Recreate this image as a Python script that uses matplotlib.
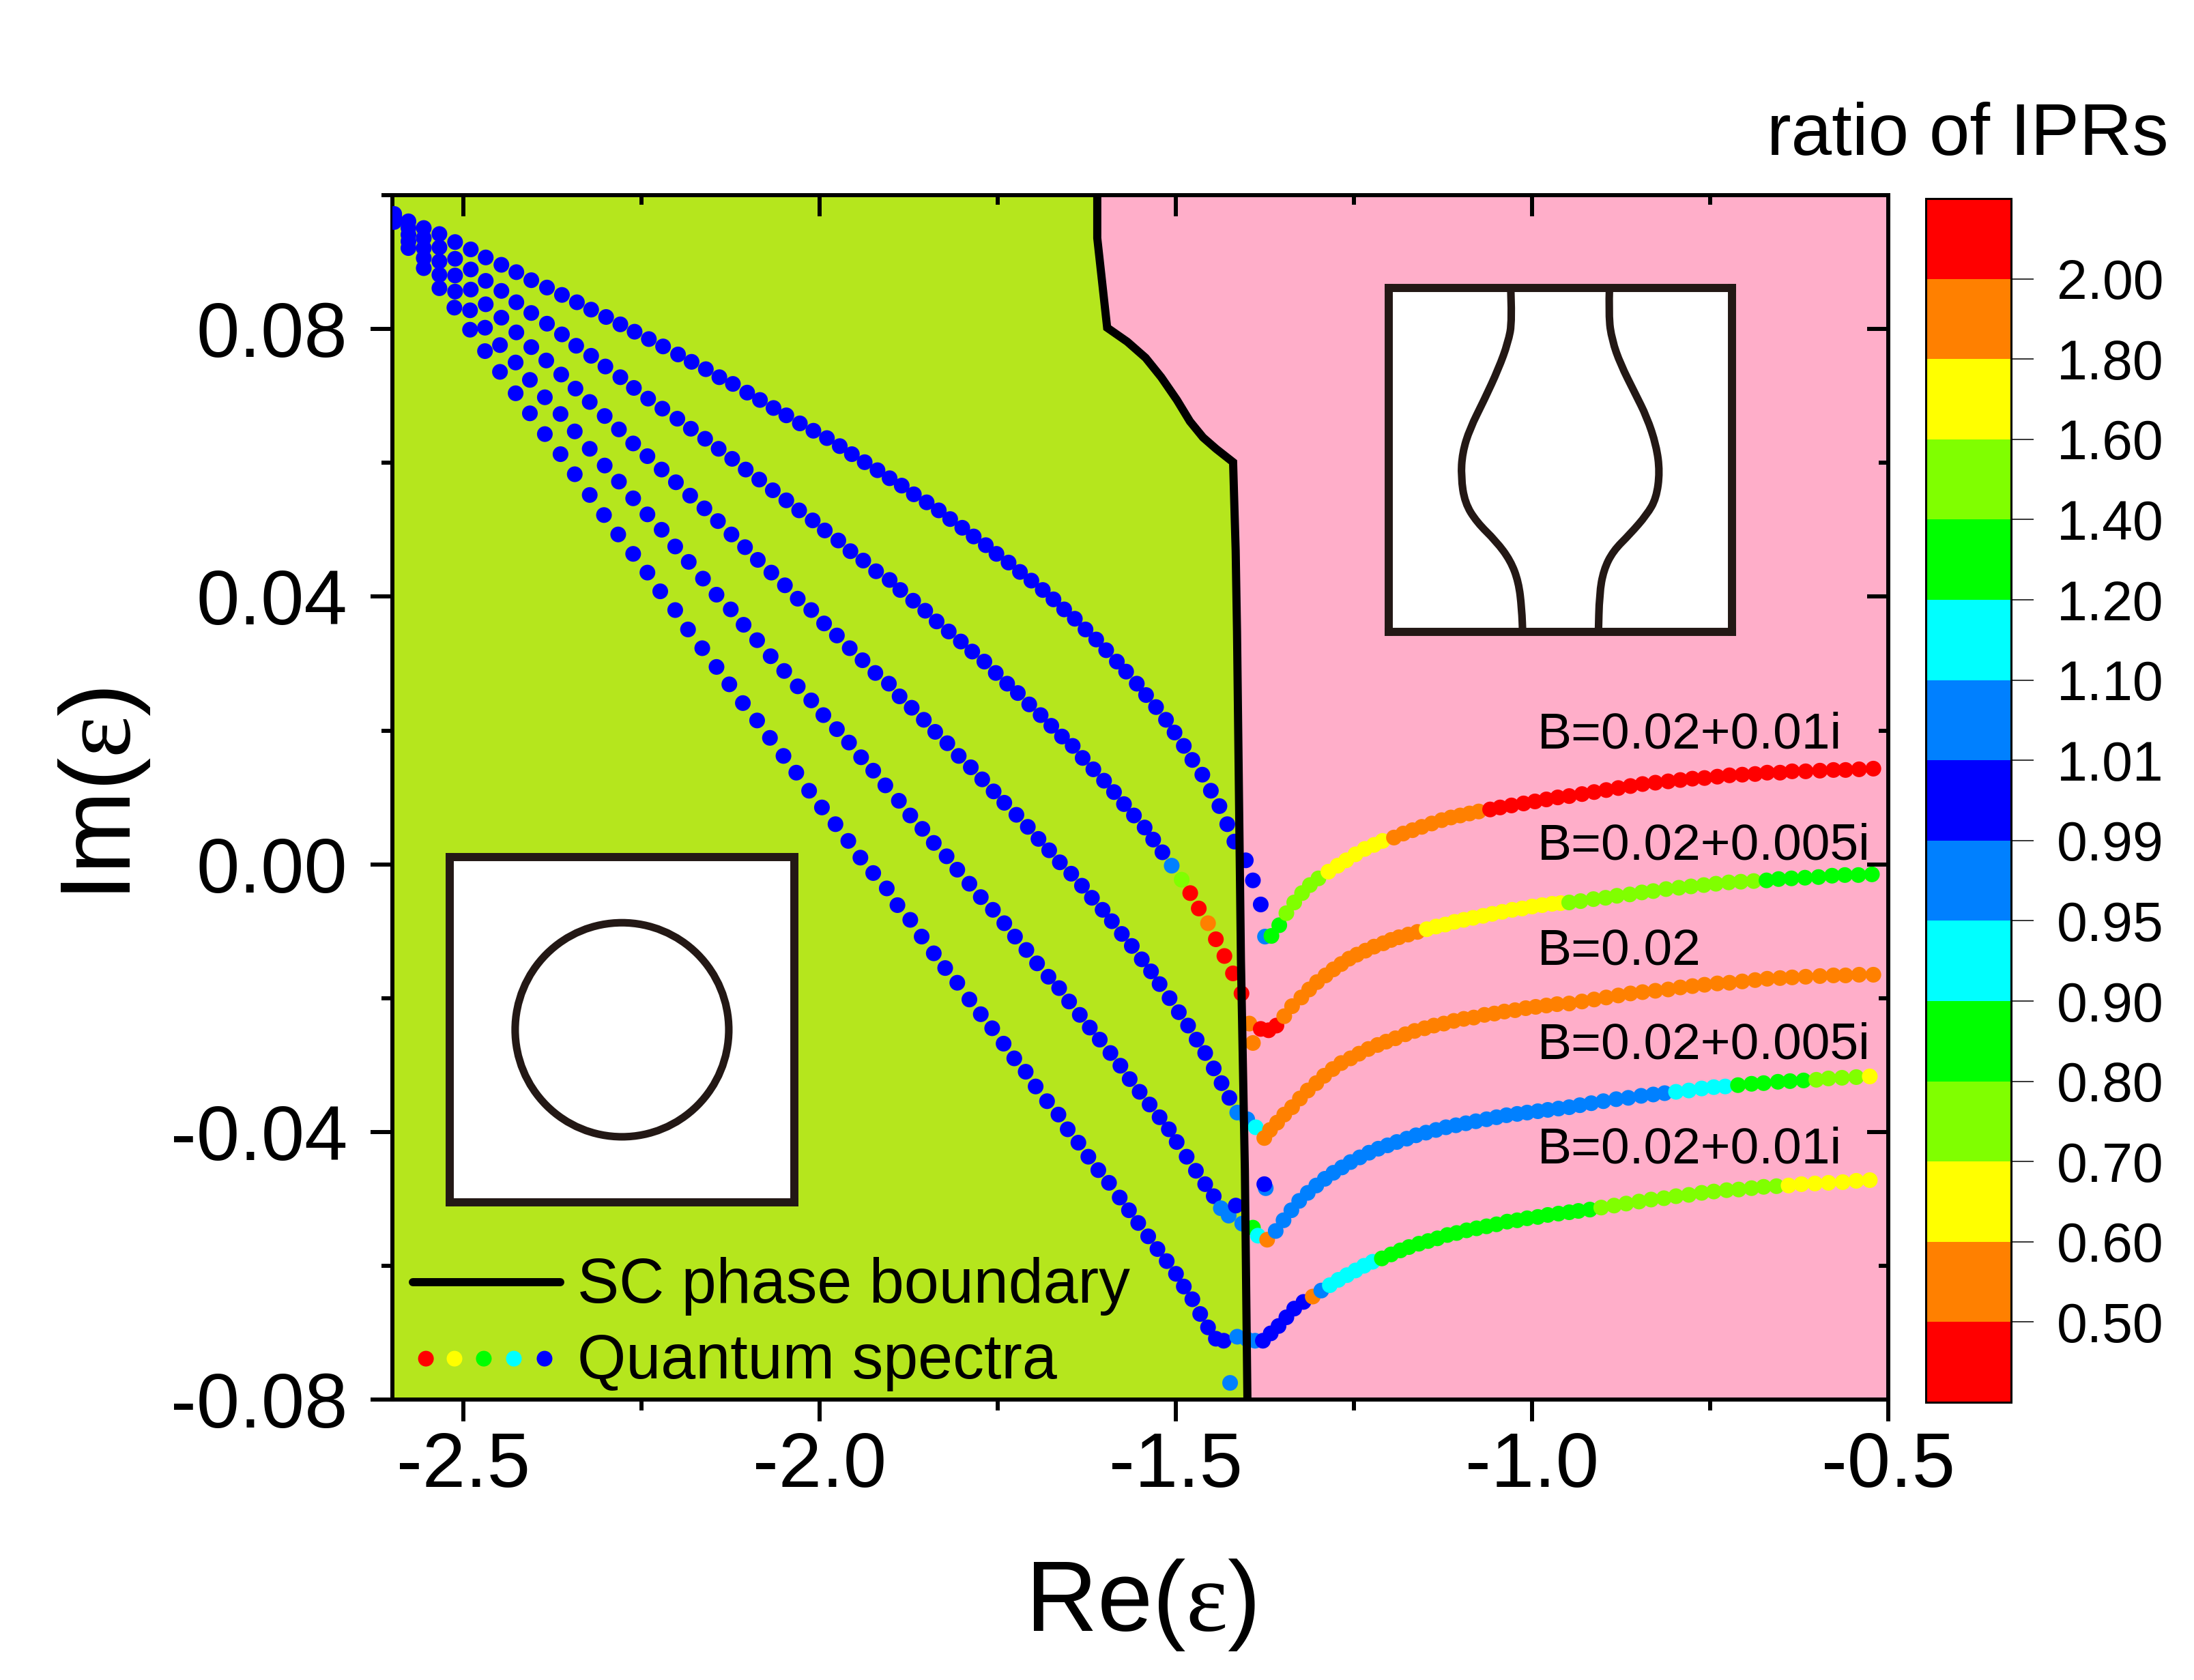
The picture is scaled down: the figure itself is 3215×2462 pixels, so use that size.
import matplotlib
matplotlib.use('Agg')
import matplotlib.pyplot as plt
import matplotlib.cm as cm
from matplotlib.colors import ListedColormap, BoundaryNorm
from matplotlib.path import Path
from matplotlib.patches import PathPatch, Ellipse
from matplotlib.ticker import MultipleLocator

plt.rcParams['font.family'] = ['Liberation Sans', 'DejaVu Sans']
plt.rcParams['axes.unicode_minus'] = False
plt.rcParams['mathtext.fontset'] = 'custom'
plt.rcParams['mathtext.rm'] = 'Liberation Sans'
plt.rcParams['mathtext.it'] = 'Liberation Serif'

# ---------------- colour scale (ratio of IPRs) ----------------
ipr_bounds = [0.40, 0.50, 0.60, 0.70, 0.80, 0.90, 0.95, 0.99, 1.01, 1.10, 1.20, 1.40, 1.60, 1.80, 2.00, 2.20]
ipr_ticks = [0.50, 0.60, 0.70, 0.80, 0.90, 0.95, 0.99, 1.01, 1.10, 1.20, 1.40, 1.60, 1.80, 2.00]
ipr_colors = ['#FF0000', '#FF8000', '#FFFF00', '#80FF00', '#00FF00', '#00FFFF', '#0080FF', '#0000FF',
              '#0080FF', '#00FFFF', '#00FF00', '#80FF00', '#FFFF00', '#FF8000', '#FF0000']

# ---------------- SC phase boundary ----------------
boundary_x = [-1.6105, -1.6105, -1.5966, -1.5683, -1.5426, -1.5207, -1.4987, -1.4804, -1.4620, -1.4437,
              -1.4198, -1.4162, -1.4143, -1.4088, -1.4033, -1.3997]
boundary_y = [0.100, 0.0936, 0.0802, 0.0781, 0.0757, 0.0728, 0.0694, 0.0662, 0.0638, 0.0621,
              0.0601, 0.0469, 0.0348, -0.0143, -0.0456, -0.0800]

# ---------------- left branches (SC side) ----------------
l1_x = [-2.5975, -2.5775, -2.556, -2.534, -2.512, -2.490, -2.469, -2.447, -2.426, -2.405,
        -2.383, -2.362, -2.341, -2.321, -2.300, -2.280, -2.260, -2.240, -2.220, -2.199,
        -2.180, -2.160, -2.141, -2.122, -2.102, -2.084, -2.065, -2.047, -2.028, -2.009,
        -1.990, -1.972, -1.955, -1.937, -1.919, -1.902, -1.885, -1.868, -1.850, -1.833,
        -1.817, -1.800, -1.784, -1.767, -1.752, -1.735, -1.719, -1.703, -1.687, -1.672,
        -1.657, -1.642, -1.627, -1.612, -1.598, -1.583, -1.570, -1.555, -1.542, -1.528,
        -1.514, -1.502, -1.489, -1.477, -1.463, -1.451, -1.439, -1.428, -1.418, -1.402,
        -1.392, -1.381]
l1_y = [0.0972, 0.0961, 0.0951, 0.0942, 0.0930, 0.0919, 0.0907, 0.0896, 0.0885, 0.0873,
        0.0862, 0.0851, 0.0840, 0.0829, 0.0818, 0.0807, 0.0796, 0.0785, 0.0774, 0.0762,
        0.0751, 0.0740, 0.0728, 0.0718, 0.0705, 0.0694, 0.0682, 0.0671, 0.0659, 0.0648,
        0.0637, 0.0625, 0.0613, 0.0601, 0.0589, 0.0577, 0.0566, 0.0553, 0.0541, 0.0529,
        0.0516, 0.0503, 0.0490, 0.0477, 0.0464, 0.0451, 0.0437, 0.0424, 0.0410, 0.0396,
        0.0381, 0.0367, 0.0351, 0.0336, 0.0320, 0.0303, 0.0288, 0.0270, 0.0253, 0.0235,
        0.0216, 0.0197, 0.0177, 0.0156, 0.0134, 0.0110, 0.0087, 0.0060, 0.0034, 0.0006,
        -0.0024, -0.0060]
l1_runs = [(1.00, 72)]

l2_x = [-2.5975, -2.5775, -2.556, -2.534, -2.512, -2.490, -2.469, -2.447, -2.426, -2.405,
        -2.383, -2.362, -2.342, -2.321, -2.301, -2.280, -2.261, -2.241, -2.221, -2.200,
        -2.181, -2.161, -2.142, -2.123, -2.104, -2.085, -2.066, -2.047, -2.029, -2.010,
        -1.993, -1.974, -1.957, -1.939, -1.921, -1.902, -1.887, -1.869, -1.852, -1.836,
        -1.819, -1.802, -1.786, -1.769, -1.753, -1.737, -1.722, -1.706, -1.690, -1.675,
        -1.660, -1.645, -1.631, -1.616, -1.601, -1.587, -1.573, -1.559, -1.544, -1.532,
        -1.519, -1.506, -1.492, -1.480, -1.468, -1.455, -1.444, -1.432, -1.420, -1.408,
        -1.397, -1.392]
l2_y = [0.0969, 0.0951, 0.0936, 0.0922, 0.0905, 0.0889, 0.0872, 0.0857, 0.0840, 0.0824,
        0.0808, 0.0792, 0.0775, 0.0760, 0.0744, 0.0728, 0.0712, 0.0696, 0.0681, 0.0666,
        0.0651, 0.0636, 0.0621, 0.0606, 0.0590, 0.0575, 0.0559, 0.0544, 0.0529, 0.0514,
        0.0499, 0.0484, 0.0468, 0.0454, 0.0438, 0.0425, 0.0410, 0.0394, 0.0379, 0.0363,
        0.0348, 0.0333, 0.0318, 0.0303, 0.0286, 0.0270, 0.0256, 0.0239, 0.0223, 0.0207,
        0.0191, 0.0177, 0.0159, 0.0142, 0.0125, 0.0108, 0.0090, 0.0073, 0.0055, 0.0037,
        0.0018, -0.0002, -0.0023, -0.0043, -0.0066, -0.0088, -0.0112, -0.0137, -0.0163, -0.0193,
        -0.0238, -0.0267]
l2_runs = [(1.00, 61), (1.05, 1), (1.50, 1), (2.10, 2), (1.90, 1), (2.10, 4), (1.90, 2)]

l3_x = [-2.5975, -2.5775, -2.556, -2.534, -2.512, -2.490, -2.469, -2.447, -2.426, -2.405,
        -2.384, -2.363, -2.343, -2.323, -2.302, -2.282, -2.262, -2.242, -2.222, -2.202,
        -2.182, -2.162, -2.143, -2.124, -2.105, -2.087, -2.068, -2.049, -2.031, -2.012,
        -1.994, -1.976, -1.958, -1.940, -1.922, -1.903, -1.888, -1.871, -1.854, -1.838,
        -1.821, -1.805, -1.788, -1.772, -1.756, -1.741, -1.724, -1.708, -1.693, -1.678,
        -1.663, -1.647, -1.632, -1.618, -1.603, -1.590, -1.576, -1.562, -1.548, -1.535,
        -1.523, -1.509, -1.496, -1.483, -1.471, -1.459, -1.447, -1.436, -1.425, -1.414,
        -1.400, -1.388]
l3_y = [0.0966, 0.0941, 0.0921, 0.0901, 0.0880, 0.0859, 0.0837, 0.0817, 0.0795, 0.0773,
        0.0753, 0.0732, 0.0711, 0.0691, 0.0670, 0.0650, 0.0629, 0.0610, 0.0590, 0.0571,
        0.0551, 0.0532, 0.0513, 0.0493, 0.0474, 0.0455, 0.0436, 0.0417, 0.0397, 0.0380,
        0.0360, 0.0342, 0.0323, 0.0305, 0.0286, 0.0270, 0.0251, 0.0234, 0.0216, 0.0198,
        0.0181, 0.0162, 0.0145, 0.0127, 0.0109, 0.0092, 0.0074, 0.0056, 0.0038, 0.0021,
        0.0003, -0.0014, -0.0032, -0.0050, -0.0068, -0.0085, -0.0104, -0.0122, -0.0142, -0.0160,
        -0.0179, -0.0200, -0.0221, -0.0241, -0.0262, -0.0282, -0.0305, -0.0327, -0.0349, -0.0371,
        -0.0381, -0.0393]
l3_runs = [(1.00, 69), (1.05, 2), (1.15, 1)]

l4_x = [-2.5975, -2.5775, -2.556, -2.534, -2.512, -2.491, -2.470, -2.449, -2.427, -2.407,
        -2.386, -2.364, -2.344, -2.323, -2.302, -2.282, -2.262, -2.242, -2.222, -2.203,
        -2.184, -2.164, -2.145, -2.125, -2.107, -2.088, -2.069, -2.050, -2.031, -2.012,
        -1.995, -1.976, -1.959, -1.942, -1.925, -1.908, -1.889, -1.873, -1.856, -1.840,
        -1.822, -1.807, -1.790, -1.774, -1.757, -1.741, -1.726, -1.710, -1.695, -1.679,
        -1.664, -1.650, -1.635, -1.621, -1.607, -1.592, -1.578, -1.565, -1.551, -1.537,
        -1.523, -1.510, -1.499, -1.485, -1.472, -1.459, -1.447, -1.437, -1.426, -1.416,
        -1.407, -1.392, -1.385, -1.372, -1.374, -1.376]
l4_y = [0.0963, 0.0931, 0.0906, 0.0881, 0.0856, 0.0828, 0.0802, 0.0776, 0.0750, 0.0724,
        0.0698, 0.0673, 0.0647, 0.0621, 0.0596, 0.0572, 0.0547, 0.0523, 0.0500, 0.0475,
        0.0452, 0.0427, 0.0403, 0.0381, 0.0358, 0.0335, 0.0311, 0.0289, 0.0266, 0.0245,
        0.0223, 0.0202, 0.0182, 0.0160, 0.0140, 0.0118, 0.0095, 0.0073, 0.0053, 0.0032,
        0.0012, -0.0008, -0.0029, -0.0049, -0.0068, -0.0088, -0.0108, -0.0128, -0.0148, -0.0168,
        -0.0185, -0.0205, -0.0225, -0.0244, -0.0262, -0.0282, -0.0301, -0.0321, -0.0340, -0.0359,
        -0.0378, -0.0396, -0.0415, -0.0437, -0.0458, -0.0478, -0.0496, -0.0514, -0.0525, -0.0510,
        -0.0537, -0.0543, -0.0555, -0.0561, -0.0484, -0.0478]
l4_runs = [(1.00, 67), (1.05, 2), (1.00, 1), (1.05, 1), (1.30, 1), (1.15, 1), (1.90, 1), (1.05, 1), (1.00, 1)]

l5_x = [-2.5975, -2.5775, -2.556, -2.534, -2.513, -2.491, -2.470, -2.449, -2.427, -2.407,
        -2.386, -2.364, -2.344, -2.323, -2.303, -2.283, -2.262, -2.242, -2.224, -2.203,
        -2.185, -2.165, -2.145, -2.127, -2.108, -2.088, -2.070, -2.051, -2.033, -2.015,
        -1.997, -1.978, -1.960, -1.943, -1.925, -1.906, -1.891, -1.873, -1.857, -1.840,
        -1.824, -1.807, -1.790, -1.774, -1.758, -1.742, -1.727, -1.711, -1.697, -1.681,
        -1.665, -1.652, -1.637, -1.623, -1.609, -1.594, -1.579, -1.566, -1.553, -1.539,
        -1.526, -1.513, -1.500, -1.489, -1.477, -1.466, -1.455, -1.444, -1.433, -1.414,
        -1.400, -1.389, -1.424]
l5_y = [0.0960, 0.0921, 0.0891, 0.0861, 0.0832, 0.0799, 0.0767, 0.0736, 0.0704, 0.0674,
        0.0643, 0.0613, 0.0583, 0.0552, 0.0522, 0.0493, 0.0464, 0.0436, 0.0408, 0.0380,
        0.0351, 0.0323, 0.0295, 0.0269, 0.0241, 0.0215, 0.0189, 0.0162, 0.0137, 0.0110,
        0.0085, 0.0060, 0.0035, 0.0010, -0.0013, -0.0036, -0.0061, -0.0083, -0.0108, -0.0133,
        -0.0155, -0.0177, -0.0202, -0.0224, -0.0245, -0.0268, -0.0290, -0.0310, -0.0332, -0.0354,
        -0.0374, -0.0396, -0.0416, -0.0437, -0.0457, -0.0476, -0.0498, -0.0517, -0.0536, -0.0556,
        -0.0575, -0.0593, -0.0612, -0.0631, -0.0650, -0.0672, -0.0692, -0.0709, -0.0712, -0.0706,
        -0.0710, -0.0712, -0.0775]
l5_runs = [(1.00, 69), (1.05, 4)]

# ---------------- right branches (normal side) ----------------
r1_x = [-1.375, -1.366, -1.355, -1.345, -1.334, -1.323, -1.312, -1.300, -1.286, -1.273,
        -1.261, -1.248, -1.235, -1.222, -1.210, -1.194, -1.181, -1.168, -1.155, -1.141,
        -1.127, -1.114, -1.101, -1.088, -1.075, -1.059, -1.045, -1.029, -1.012, -0.996,
        -0.980, -0.964, -0.948, -0.930, -0.913, -0.896, -0.879, -0.862, -0.845, -0.827,
        -0.809, -0.792, -0.775, -0.758, -0.740, -0.723, -0.705, -0.687, -0.670, -0.652,
        -0.635, -0.616, -0.596, -0.577, -0.560, -0.541, -0.521]
r1_y = [-0.0108, -0.0107, -0.0091, -0.0073, -0.0057, -0.0043, -0.0031, -0.0021, -0.0011, -0.0002,
        0.0006, 0.0015, 0.0023, 0.0029, 0.0035, 0.0040, 0.0046, 0.0051, 0.0056, 0.0061,
        0.0066, 0.0070, 0.0073, 0.0076, 0.0079, 0.0082, 0.0085, 0.0088, 0.0091, 0.0094,
        0.0097, 0.0100, 0.0102, 0.0105, 0.0108, 0.0111, 0.0114, 0.0117, 0.0120, 0.0122,
        0.0124, 0.0126, 0.0128, 0.0129, 0.0131, 0.0133, 0.0134, 0.0135, 0.0137, 0.0137,
        0.0139, 0.0139, 0.0140, 0.0141, 0.0141, 0.0142, 0.0143]
r1_runs = [(1.05, 1), (1.30, 2), (1.50, 5), (1.70, 7), (1.90, 10), (2.10, 32)]

r2_x = [-1.381, -1.370, -1.359, -1.348, -1.337, -1.324, -1.313, -1.302, -1.290, -1.279,
        -1.268, -1.257, -1.246, -1.234, -1.222, -1.209, -1.198, -1.187, -1.174, -1.161,
        -1.148, -1.135, -1.122, -1.109, -1.096, -1.083, -1.069, -1.056, -1.042, -1.028,
        -1.014, -1.000, -0.986, -0.972, -0.960, -0.948, -0.932, -0.914, -0.897, -0.881,
        -0.863, -0.846, -0.830, -0.812, -0.794, -0.777, -0.759, -0.742, -0.724, -0.707,
        -0.689, -0.671, -0.654, -0.636, -0.617, -0.598, -0.579, -0.561, -0.542, -0.523]
r2_y = [-0.0246, -0.0248, -0.0241, -0.0227, -0.0212, -0.0199, -0.0187, -0.0176, -0.0166, -0.0157,
        -0.0149, -0.0141, -0.0135, -0.0129, -0.0123, -0.0118, -0.0113, -0.0109, -0.0105, -0.0101,
        -0.0097, -0.0093, -0.0090, -0.0086, -0.0083, -0.0080, -0.0077, -0.0074, -0.0071, -0.0068,
        -0.0066, -0.0063, -0.0061, -0.0059, -0.0058, -0.0057, -0.0055, -0.0052, -0.0050, -0.0047,
        -0.0045, -0.0042, -0.0040, -0.0037, -0.0035, -0.0033, -0.0031, -0.0029, -0.0027, -0.0026,
        -0.0025, -0.0024, -0.0022, -0.0021, -0.0020, -0.0019, -0.0017, -0.0016, -0.0016, -0.0015]
r2_runs = [(2.10, 3), (1.90, 17), (1.70, 15), (1.50, 16), (1.30, 9)]

r3_x = [-1.376, -1.368, -1.358, -1.348, -1.337, -1.326, -1.315, -1.303, -1.292, -1.280,
        -1.268, -1.255, -1.243, -1.230, -1.217, -1.205, -1.192, -1.178, -1.165, -1.151,
        -1.138, -1.124, -1.110, -1.096, -1.082, -1.067, -1.053, -1.039, -1.024, -1.009,
        -0.995, -0.980, -0.965, -0.948, -0.930, -0.913, -0.896, -0.879, -0.862, -0.845,
        -0.827, -0.809, -0.792, -0.775, -0.758, -0.740, -0.723, -0.705, -0.687, -0.670,
        -0.652, -0.635, -0.616, -0.596, -0.577, -0.560, -0.541, -0.521]
r3_y = [-0.0409, -0.0397, -0.0386, -0.0374, -0.0363, -0.0350, -0.0338, -0.0327, -0.0316, -0.0306,
        -0.0297, -0.0290, -0.0283, -0.0276, -0.0270, -0.0265, -0.0260, -0.0254, -0.0249, -0.0245,
        -0.0241, -0.0238, -0.0234, -0.0231, -0.0229, -0.0225, -0.0223, -0.0220, -0.0218, -0.0215,
        -0.0213, -0.0211, -0.0209, -0.0208, -0.0205, -0.0202, -0.0199, -0.0196, -0.0193, -0.0191,
        -0.0189, -0.0187, -0.0184, -0.0182, -0.0180, -0.0178, -0.0177, -0.0175, -0.0173, -0.0171,
        -0.0170, -0.0169, -0.0168, -0.0167, -0.0166, -0.0166, -0.0165, -0.0165]
r3_runs = [(1.90, 58)]

r4_x = [-1.360, -1.349, -1.338, -1.327, -1.315, -1.303, -1.291, -1.279, -1.267, -1.255,
        -1.242, -1.229, -1.216, -1.203, -1.190, -1.176, -1.163, -1.149, -1.135, -1.121,
        -1.107, -1.093, -1.079, -1.064, -1.050, -1.036, -1.021, -1.007, -0.992, -0.978,
        -0.963, -0.948, -0.933, -0.917, -0.900, -0.882, -0.865, -0.847, -0.830, -0.814,
        -0.798, -0.780, -0.762, -0.745, -0.729, -0.711, -0.692, -0.675, -0.655, -0.638,
        -0.619, -0.601, -0.584, -0.565, -0.545, -0.526]
r4_y = [-0.0548, -0.0532, -0.0517, -0.0503, -0.0491, -0.0480, -0.0470, -0.0461, -0.0453, -0.0445,
        -0.0438, -0.0431, -0.0425, -0.0420, -0.0415, -0.0410, -0.0405, -0.0401, -0.0397, -0.0393,
        -0.0390, -0.0387, -0.0384, -0.0381, -0.0378, -0.0375, -0.0373, -0.0371, -0.0369, -0.0367,
        -0.0365, -0.0363, -0.0360, -0.0357, -0.0354, -0.0351, -0.0349, -0.0346, -0.0344, -0.0342,
        -0.0340, -0.0338, -0.0335, -0.0333, -0.0332, -0.0330, -0.0328, -0.0327, -0.0325, -0.0324,
        -0.0323, -0.0322, -0.0320, -0.0319, -0.0318, -0.0317]
r4_runs = [(1.05, 40), (1.15, 5), (1.30, 6), (1.50, 4), (1.70, 1)]

r5_x = [-1.378, -1.367, -1.356, -1.345, -1.334, -1.321, -1.308, -1.296, -1.284, -1.272,
        -1.260, -1.248, -1.236, -1.224, -1.211, -1.198, -1.185, -1.173, -1.159, -1.146,
        -1.133, -1.119, -1.106, -1.092, -1.078, -1.064, -1.050, -1.035, -1.021, -1.007,
        -0.992, -0.978, -0.963, -0.948, -0.935, -0.919, -0.903, -0.885, -0.868, -0.850,
        -0.833, -0.815, -0.798, -0.780, -0.762, -0.745, -0.727, -0.710, -0.692, -0.675,
        -0.657, -0.640, -0.622, -0.603, -0.584, -0.564, -0.545, -0.526]
r5_y = [-0.0712, -0.0701, -0.0690, -0.0677, -0.0664, -0.0654, -0.0646, -0.0637, -0.0629, -0.0621,
        -0.0614, -0.0607, -0.0600, -0.0594, -0.0589, -0.0583, -0.0577, -0.0572, -0.0567, -0.0563,
        -0.0559, -0.0554, -0.0551, -0.0547, -0.0544, -0.0541, -0.0538, -0.0534, -0.0532, -0.0529,
        -0.0527, -0.0524, -0.0522, -0.0520, -0.0518, -0.0516, -0.0513, -0.0510, -0.0507, -0.0504,
        -0.0501, -0.0499, -0.0496, -0.0494, -0.0491, -0.0489, -0.0487, -0.0486, -0.0484, -0.0482,
        -0.0481, -0.0480, -0.0478, -0.0477, -0.0476, -0.0475, -0.0473, -0.0472]
r5_runs = [(1.00, 6), (1.90, 1), (1.05, 1), (1.15, 6), (1.30, 22), (1.50, 15), (1.70, 7)]

# branch labels
b_labels = ['B=0.02+0.01i', 'B=0.02+0.005i', 'B=0.02', 'B=0.02+0.005i', 'B=0.02+0.01i']
b_label_x = -0.993
b_label_y = [0.0174, 0.0007, -0.0151, -0.0290, -0.0447]

x_ticks = [-2.5, -2.0, -1.5, -1.0, -0.5]
y_ticks = [-0.08, -0.04, 0.00, 0.04, 0.08]


def expand(runs):
    out = []
    for v, n in runs:
        out.extend([v] * n)
    return out


cmap = ListedColormap(ipr_colors)
norm = BoundaryNorm(ipr_bounds, cmap.N)

fig = plt.figure(figsize=(32.16, 24.62), dpi=100)
ax_rect = [0.1788, 0.1669, 0.6816, 0.7169]
ax = fig.add_axes(ax_rect)
ax.set_xlim(-2.6, -0.5)
ax.set_ylim(-0.08, 0.10)

# phase regions
ax.fill([-2.6] + boundary_x + [-2.6], [0.10] + boundary_y + [-0.08], color='#B5E61D', lw=0, zorder=0)
ax.fill(boundary_x + [-0.5, -0.5], boundary_y + [-0.08, 0.10], color='#FFAEC9', lw=0, zorder=0)

DOT = 275
series = [(l1_x, l1_y, l1_runs), (l2_x, l2_y, l2_runs), (l3_x, l3_y, l3_runs),
          (l4_x, l4_y, l4_runs), (l5_x, l5_y, l5_runs),
          (r1_x, r1_y, r1_runs), (r2_x, r2_y, r2_runs), (r3_x, r3_y, r3_runs),
          (r4_x, r4_y, r4_runs), (r5_x, r5_y, r5_runs)]
for xs, ys, runs in series:
    cs = expand(runs)
    ax.scatter(xs, ys, c=cs, cmap=cmap, norm=norm, s=DOT, linewidths=0, zorder=3)

ax.plot(boundary_x, boundary_y, color='black', lw=8.6, zorder=5, solid_joinstyle='miter')

for lab, ly in zip(b_labels, b_label_y):
    ax.text(b_label_x, ly, lab, fontsize=54, ha='left', va='baseline', zorder=6)

# legend (drawn by hand)
ax.plot([0.0137, 0.1122], [0.0975, 0.0975], transform=ax.transAxes, color='black', lw=8.6,
        solid_capstyle='round', zorder=6)
ax.scatter([0.0224, 0.0415, 0.0611, 0.0812, 0.1017], [0.034] * 5, transform=ax.transAxes,
           c=['#FF0000', '#FFFF00', '#00FF00', '#00FFFF', '#0000FF'], s=DOT, linewidths=0, zorder=6)
ax.text(0.1236, 0.0805, 'SC phase boundary', transform=ax.transAxes, fontsize=66, ha='left', va='baseline', zorder=6)
ax.text(0.1236, 0.0176, 'Quantum spectra', transform=ax.transAxes, fontsize=66, ha='left', va='baseline', zorder=6)

# axes styling
for sp in ax.spines.values():
    sp.set_linewidth(4.3)
ax.set_xticks(x_ticks)
ax.set_xticklabels(['%.1f' % v for v in x_ticks])
ax.set_yticks(y_ticks)
ax.set_yticklabels(['%.2f' % v for v in y_ticks])
ax.xaxis.set_minor_locator(MultipleLocator(0.25))
ax.yaxis.set_minor_locator(MultipleLocator(0.02))
ax.tick_params(which='both', direction='out', top=False, right=False, width=4.3)
ax.tick_params(which='major', length=23, labelsize=82)
ax.tick_params(which='minor', length=11.5)
ax.tick_params(axis='x', which='major', pad=10)
ax.tick_params(axis='y', which='major', pad=24)

# top / right ticks pointing inward
ax2 = fig.add_axes(ax_rect, frameon=False)
ax2.set_xlim(-2.6, -0.5)
ax2.set_ylim(-0.08, 0.10)
ax2.patch.set_visible(False)
ax2.xaxis.tick_top()
ax2.yaxis.tick_right()
ax2.set_xticks(x_ticks)
ax2.set_yticks(y_ticks)
ax2.xaxis.set_minor_locator(MultipleLocator(0.25))
ax2.yaxis.set_minor_locator(MultipleLocator(0.02))
ax2.tick_params(which='both', direction='in', width=4.3, labeltop=False, labelright=False,
                labelbottom=False, labelleft=False, bottom=False, left=False)
ax2.tick_params(which='major', length=22)
ax2.tick_params(which='minor', length=10)

fig.text(0.5196, 0.0447, 'Re($\\varepsilon$)', ha='center', va='center', fontsize=105)
fig.text(0.0475, 0.527, 'Im($\\varepsilon$)', ha='center', va='center', rotation=90, fontsize=105)

# insets
INK = '#231815'
ins1 = fig.add_axes([0.2049, 0.2843, 0.1570, 0.2055])
ins2 = fig.add_axes([0.6328, 0.6239, 0.1564, 0.2047])
for ins in (ins1, ins2):
    ins.set_xlim(0, 1)
    ins.set_ylim(0, 1)
    ins.set_xticks([])
    ins.set_yticks([])
    ins.set_facecolor('white')
    for sp in ins.spines.values():
        sp.set_linewidth(8.6)
        sp.set_color(INK)
ins1.add_patch(Ellipse((0.5, 0.5), 0.62, 0.62, fill=False, lw=8, ec=INK))

neck_left = [(0.358, 0.0), (0.363, 0.105), (0.351, 0.167), (0.324, 0.241), (0.283, 0.330), (0.242, 0.412),
             (0.221, 0.480), (0.217, 0.548), (0.228, 0.622), (0.262, 0.677), (0.317, 0.731), (0.358, 0.786),
             (0.381, 0.847), (0.390, 0.922), (0.393, 1.0)]
neck_right = [(0.640, 0.0), (0.637, 0.092), (0.647, 0.160), (0.671, 0.228), (0.712, 0.310), (0.746, 0.378),
              (0.773, 0.459), (0.783, 0.534), (0.773, 0.609), (0.746, 0.656), (0.698, 0.711), (0.650, 0.759),
              (0.623, 0.813), (0.611, 0.881), (0.608, 1.0)]


def smooth(pts):
    p = [((x - 0.0116) / 0.977, 1 - (y - 0.0116) / 0.977) for x, y in pts]
    verts = [p[0]]
    codes = [Path.MOVETO]
    for i in range(1, len(p) - 1):
        mid = ((p[i][0] + p[i + 1][0]) / 2, (p[i][1] + p[i + 1][1]) / 2)
        verts += [p[i], mid]
        codes += [Path.CURVE3, Path.CURVE3]
    verts.append(p[-1])
    codes.append(Path.LINETO)
    return Path(verts, codes)


for pts in (neck_left, neck_right):
    ins2.add_patch(PathPatch(smooth(pts), fill=False, lw=8, ec=INK, capstyle='butt'))

# colour bar
cax = fig.add_axes([0.8775, 0.1653, 0.0389, 0.7165])
sm = cm.ScalarMappable(norm=norm, cmap=cmap)
cb = fig.colorbar(sm, cax=cax, spacing='uniform')
cb.set_ticks(ipr_ticks)
cb.set_ticklabels(['%.2f' % t for t in ipr_ticks])
cb.minorticks_off()
cb.outline.set_linewidth(2.2)
cb.ax.tick_params(which='major', length=24, width=1.1, labelsize=58, pad=24, direction='out')
fig.text(0.988, 0.908, 'ratio of IPRs', ha='right', va='baseline', fontsize=77)

fig.savefig('out.png', dpi=100)
